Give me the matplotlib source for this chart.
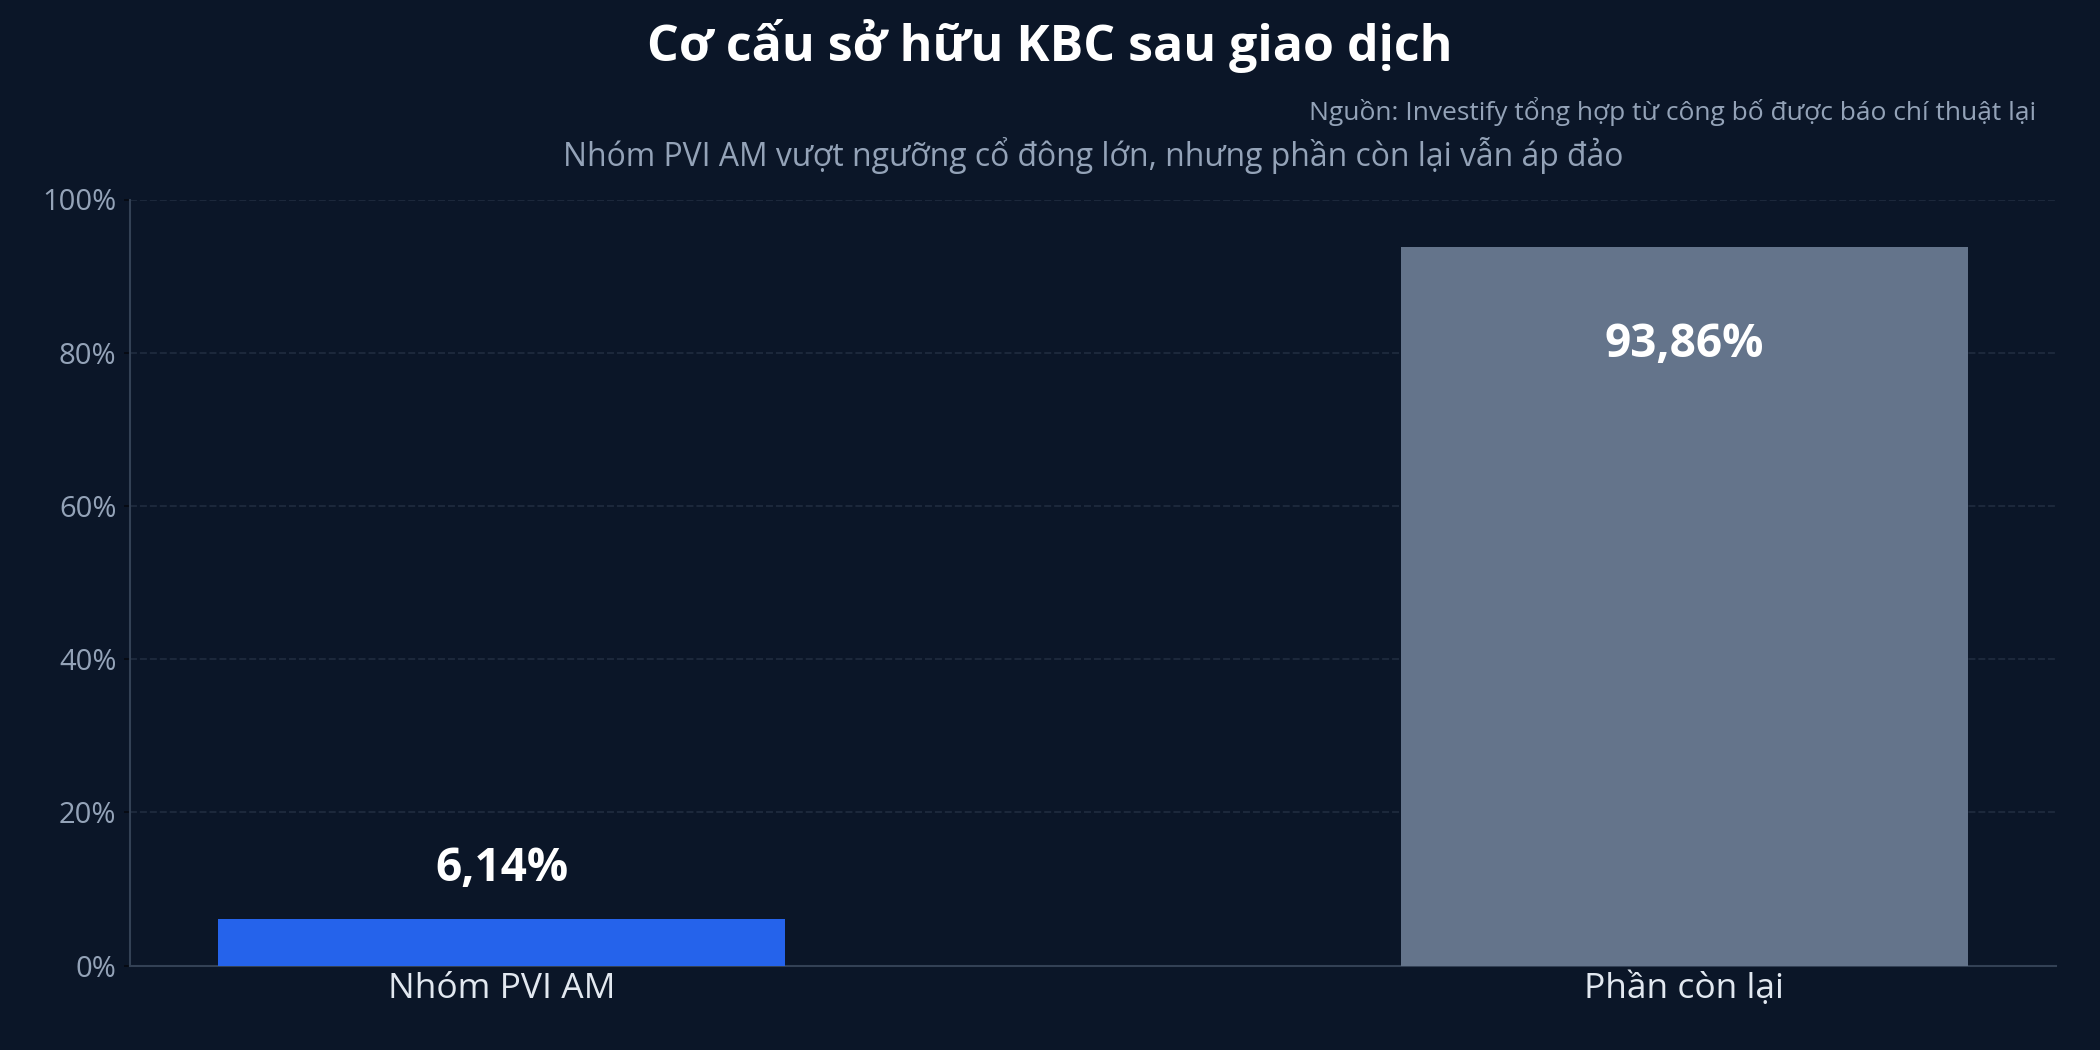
import matplotlib
matplotlib.use('Agg')
import matplotlib.pyplot as plt
from matplotlib.ticker import FuncFormatter

plt.rcParams['font.family'] = ['Open Sans', 'Noto Sans', 'DejaVu Sans']

# data
categories = ['Nhóm PVI AM', 'Phần còn lại']
shares = [6.14, 93.86]
share_labels = ['6,14%', '93,86%']
bar_colors = ['#2563eb', '#64748b']

title = 'Cơ cấu sở hữu KBC sau giao dịch'
subtitle = 'Nhóm PVI AM vượt ngưỡng cổ đông lớn, nhưng phần còn lại vẫn áp đảo'
source = 'Nguồn: Investify tổng hợp từ công bố được báo chí thuật lại'

bg = '#0b1628'

fig = plt.figure(figsize=(14, 7), dpi=150, facecolor=bg)
ax = fig.add_axes([0.0619, 0.0804, 0.9171, 0.7296], facecolor=bg)

x = list(range(len(categories)))
ax.bar(x, shares, width=0.48, color=bar_colors, zorder=3)
ax.set_ylim(0, 100)
ax.set_xticks(x)
ax.set_xticklabels(categories, fontsize=17, color='#e2e8f0')
ax.set_yticks([0, 20, 40, 60, 80, 100])
ax.yaxis.set_major_formatter(FuncFormatter(lambda v, p: f'{v:.0f}%'))
ax.tick_params(axis='y', labelsize=14, labelcolor='#94a3b8', color='#05080f', length=3)
ax.tick_params(axis='x', length=0, pad=3)

ax.grid(axis='y', linestyle='--', color='#1e2a3d', linewidth=0.9, zorder=0)
for s in ['top', 'right']:
    ax.spines[s].set_visible(False)
for s in ['left', 'bottom']:
    ax.spines[s].set_color('#334155')
    ax.spines[s].set_linewidth(1.0)

# value labels: small bar above, tall bar inside
for xi, val, lab in zip(x, shares, share_labels):
    off = 24 if val < 50 else -47
    ax.annotate(lab, (xi, val), xytext=(0, off), textcoords='offset points',
                ha='center', va='center', fontsize=22, fontweight='bold',
                color='white', zorder=4)

ax.set_title(subtitle, fontsize=15.3, color='#94a3b8', pad=16)
fig.text(0.5, 0.956, title, ha='center', va='center', fontsize=24,
         fontweight='bold', color='white')
fig.text(0.9694, 0.894, source, ha='right', va='center', fontsize=12.7,
         color='#94a3b8')

fig.savefig('out.png', dpi=150, facecolor=bg)
